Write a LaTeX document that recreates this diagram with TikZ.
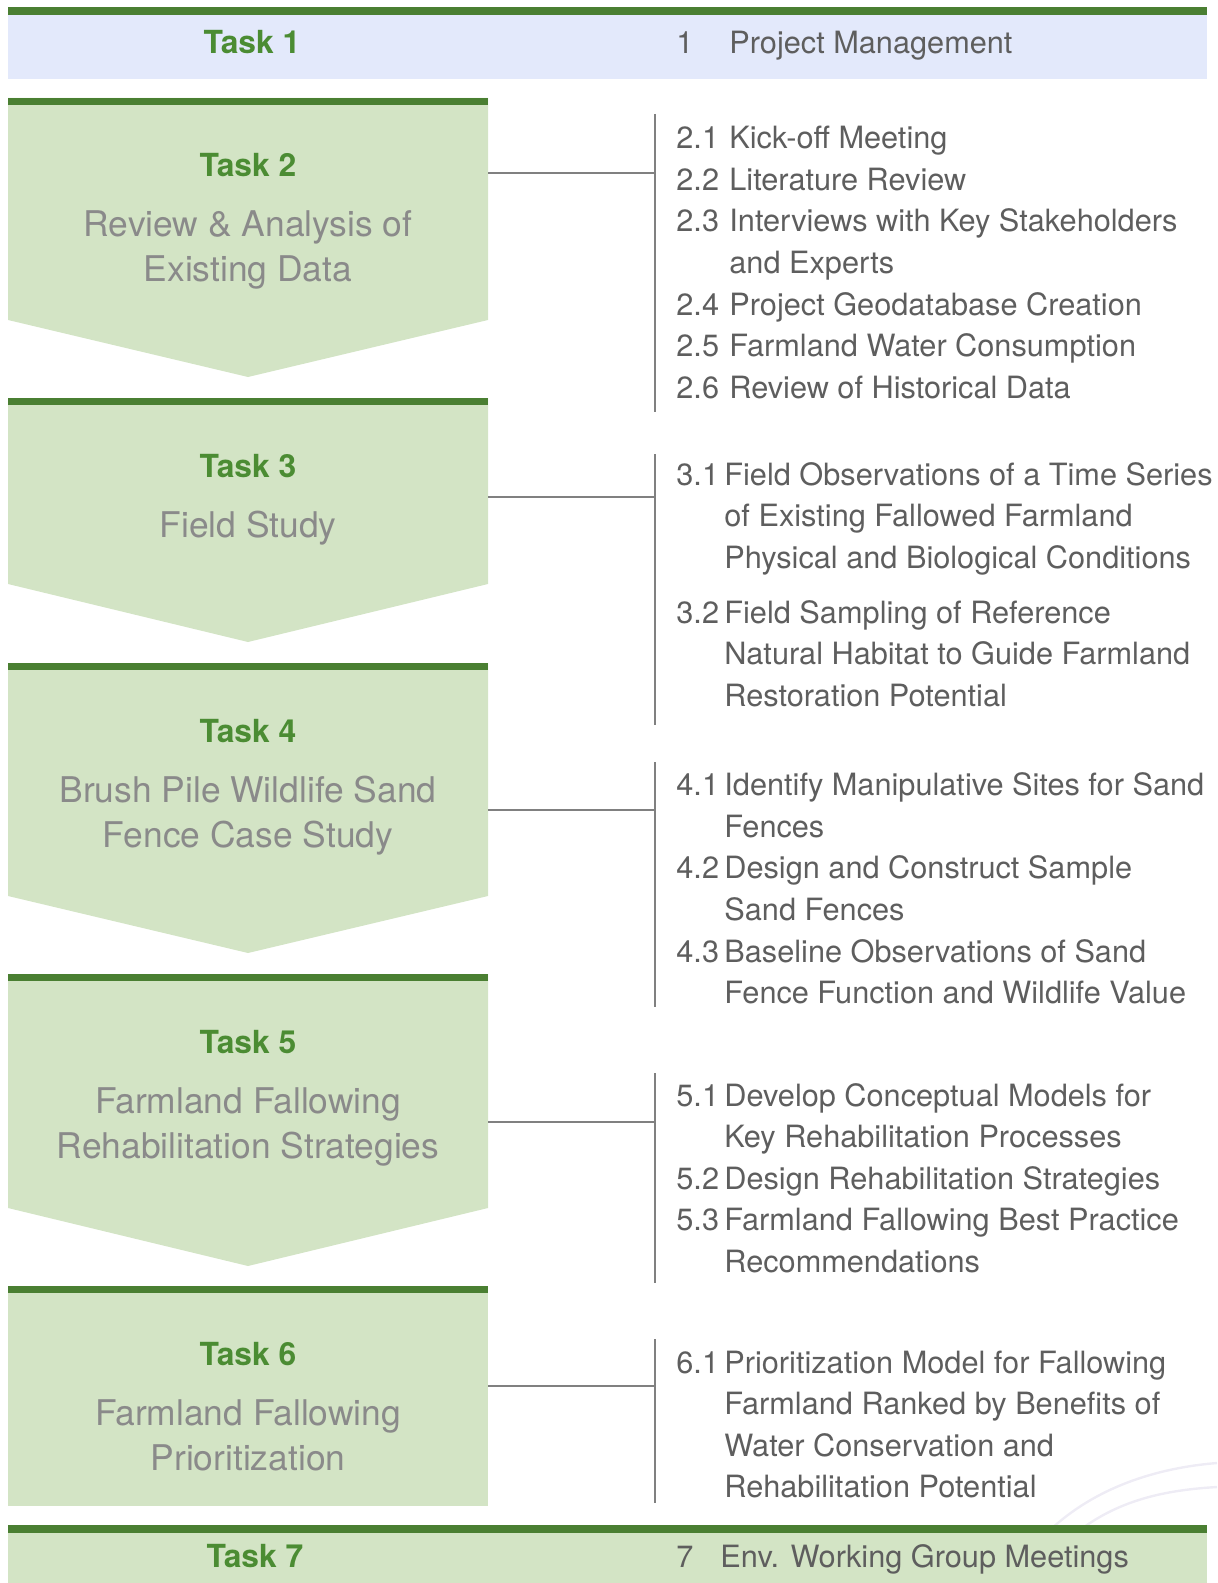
\documentclass[tikz,border=0pt]{standalone}
\usepackage{fontspec}
\setmainfont{TeX Gyre Heros}

\definecolor{barGreen}{HTML}{4A7F32}
\definecolor{boxFill}{HTML}{D3E4C5}
\definecolor{headBlue}{HTML}{E3E9FB}
\definecolor{labelGreen}{HTML}{4B8C33}
\definecolor{listGray}{HTML}{5E5E5E}
\definecolor{descGray}{HTML}{8A8A8A}
\definecolor{ruleGray}{HTML}{808080}
\definecolor{arcTint}{HTML}{EEECF5}

\tikzset{
  listtxt/.style={anchor=base west, inner sep=0pt, text=listGray,
    font=\fontsize{15.35}{18}\selectfont},
  tasklabel/.style={anchor=base, inner sep=0pt, text=labelGreen,
    font=\fontsize{15.9}{18}\selectfont\bfseries},
  desctxt/.style={anchor=base, inner sep=0pt, text=descGray,
    font=\fontsize{17.7}{21}\selectfont},
  rule/.style={draw=ruleGray, line width=1pt},
  bodyfill/.style={fill=boxFill},
  topbar/.style={fill=barGreen},
}

% one line of a sub-task list: name, x, baseline, text
\newcommand\listline[4]{\node[listtxt] (#1) at (#2,#3) {#4};}
% a task arrow box: top, body bottom, tip
\newcommand\taskarrow[3]{%
  \fill[bodyfill] (8,#1) -- (488,#1) -- (488,#2) -- (248,#3) -- (8,#2) -- cycle;
  \fill[topbar] (8,#1) rectangle (488,#1+7);}

\begin{document}
\begin{tikzpicture}[x=0.5pt,y=-0.5pt]
\useasboundingbox (0,0) rectangle (1217,1583);

% faint decorative arcs, lower right
\draw[arcTint, line width=1.2pt] (1050,1530) .. controls (1095,1488) and (1155,1468) .. (1217,1463);
\draw[arcTint, line width=1.2pt] (1080,1530) .. controls (1120,1500) and (1165,1490) .. (1217,1487);

% ---- Task 1 header bar
\fill[headBlue] (8,7) rectangle (1207,79);
\fill[topbar] (8,7) rectangle (1207,15);
\node[tasklabel] (task1) at (252,53.5) {Task 1};
\listline{n1}{676}{54}{1}
\listline{t1}{729}{54}{Project Management}

% ---- Task boxes
\taskarrow{98}{320}{377}
\taskarrow{398}{584}{642}
\taskarrow{663}{896}{953}
\taskarrow{974}{1208}{1266}
\fill[bodyfill] (8,1286) rectangle (488,1506);
\fill[topbar] (8,1286) rectangle (488,1293);

\node[tasklabel] (task2) at (248,177) {Task 2};
\node[desctxt] (d2a) at (248,237) {Review \& Analysis of};
\node[desctxt] (d2b) at (248,282) {Existing Data};

\node[tasklabel] (task3) at (248,477) {Task 3};
\node[desctxt] (d3a) at (248,537) {Field Study};

\node[tasklabel] (task4) at (248,742) {Task 4};
\node[desctxt] (d4a) at (248,802) {Brush Pile Wildlife Sand};
\node[desctxt] (d4b) at (248,847) {Fence Case Study};

\node[tasklabel] (task5) at (248,1053) {Task 5};
\node[desctxt] (d5a) at (248,1113) {Farmland Fallowing};
\node[desctxt] (d5b) at (248,1158) {Rehabilitation Strategies};

\node[tasklabel] (task6) at (248,1365) {Task 6};
\node[desctxt] (d6a) at (248,1425) {Farmland Fallowing};
\node[desctxt] (d6b) at (248,1470) {Prioritization};

% ---- connector anchors (box edge, bracket joint, bracket ends)
\coordinate (e2) at (488,173);  \coordinate (j2) at (655,173);
\coordinate (s2) at (655,114);  \coordinate (f2) at (655,412);
\coordinate (e3) at (488,497);  \coordinate (j3) at (655,497);
\coordinate (s3) at (655,454);  \coordinate (f3) at (655,725);
\coordinate (e4) at (488,810);  \coordinate (j4) at (655,810);
\coordinate (s4) at (655,762);  \coordinate (f4) at (655,1007);
\coordinate (e5) at (488,1122); \coordinate (j5) at (655,1122);
\coordinate (s5) at (655,1073); \coordinate (f5) at (655,1283);
\coordinate (e6) at (488,1386); \coordinate (j6) at (655,1386);
\coordinate (s6) at (655,1339); \coordinate (f6) at (655,1503);

\foreach \k in {2,...,6}{
  \draw[rule] (e\k) -- (j\k);
  \draw[rule] (s\k) -- (f\k);
}

% ---- Task 2 list
\listline{n21}{676}{149}{2.1}   \listline{t21}{729}{149}{Kick-off Meeting}
\listline{n22}{676}{190.5}{2.2} \listline{t22}{729}{190.5}{Literature Review}
\listline{n23}{676}{232}{2.3}   \listline{t23}{729}{232}{Interviews with Key Stakeholders}
\listline{t23b}{729}{273.5}{and Experts}
\listline{n24}{676}{315}{2.4}   \listline{t24}{729}{315}{Project Geodatabase Creation}
\listline{n25}{676}{356.5}{2.5} \listline{t25}{729}{356.5}{Farmland Water Consumption}
\listline{n26}{676}{398}{2.6}   \listline{t26}{729}{398}{Review of Historical Data}

% ---- Task 3 list
\listline{n31}{676}{485}{3.1}   \listline{t31}{724}{485}{Field Observations of a Time Series}
\listline{t31b}{724}{526.5}{of Existing Fallowed Farmland}
\listline{t31c}{724}{568}{Physical and Biological Conditions}
\listline{n32}{676}{623}{3.2}   \listline{t32}{724}{623}{Field Sampling of Reference}
\listline{t32b}{724}{664.5}{Natural Habitat to Guide Farmland}
\listline{t32c}{724}{706}{Restoration Potential}

% ---- Task 4 list
\listline{n41}{676}{795}{4.1}   \listline{t41}{724}{795}{Identify Manipulative Sites for Sand}
\listline{t41b}{724}{837}{Fences}
\listline{n42}{676}{878}{4.2}   \listline{t42}{724}{878}{Design and Construct Sample}
\listline{t42b}{724}{920}{Sand Fences}
\listline{n43}{676}{962}{4.3}   \listline{t43}{724}{962}{Baseline Observations of Sand}
\listline{t43b}{724}{1003}{Fence Function and Wildlife Value}

% ---- Task 5 list
\listline{n51}{676}{1106}{5.1}    \listline{t51}{724}{1106}{Develop Conceptual Models for}
\listline{t51b}{724}{1147.5}{Key Rehabilitation Processes}
\listline{n52}{676}{1189}{5.2}    \listline{t52}{724}{1189}{Design Rehabilitation Strategies}
\listline{n53}{676}{1230.5}{5.3}  \listline{t53}{724}{1230.5}{Farmland Fallowing Best Practice}
\listline{t53b}{724}{1272}{Recommendations}

% ---- Task 6 list
\listline{n61}{676}{1373}{6.1}  \listline{t61}{724}{1373}{Prioritization Model for Fallowing}
\listline{t61b}{724}{1414}{Farmland Ranked by Benefits of}
\listline{t61c}{724}{1456}{Water Conservation and}
\listline{t61d}{724}{1497}{Rehabilitation Potential}

% ---- Task 7 footer bar
\fill[bodyfill] (8,1525) rectangle (1207,1583);
\fill[topbar] (8,1525) rectangle (1207,1533);
\node[tasklabel] (task7) at (255,1567) {Task 7};
\listline{n7}{676}{1567}{7}
\listline{t7}{720}{1567}{Env. Working Group Meetings}

\end{tikzpicture}
\end{document}
